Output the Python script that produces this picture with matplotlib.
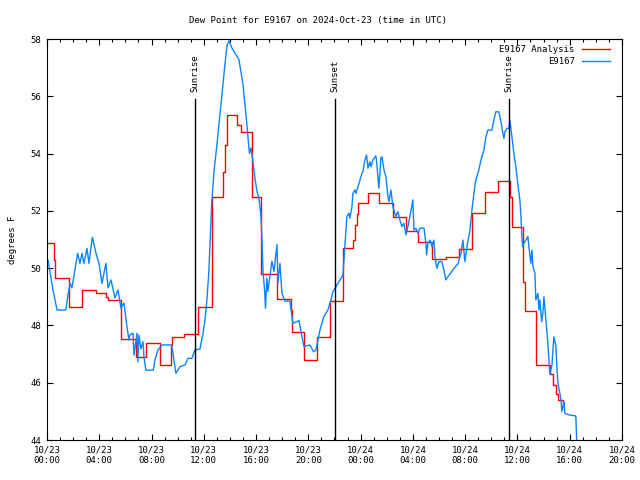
import matplotlib
matplotlib.use("Agg")
import matplotlib.pyplot as plt
from matplotlib.ticker import MultipleLocator, FixedLocator

# hours since 2024-10-23 00:00 UTC
blue_hours = [0.08, 0.23, 0.46, 0.77, 1.43, 1.76, 1.91, 2.35, 2.52, 2.68, 2.83, 3.06, 3.21, 3.47, 3.75,
              3.98, 4.21, 4.51, 4.67, 4.90, 5.20, 5.43, 5.66, 5.89, 6.12, 6.27, 6.35, 6.58, 6.66, 6.89,
              6.96, 7.04, 7.19, 7.35, 7.42, 7.57, 8.13, 8.26, 8.49, 8.80, 9.54, 9.72, 9.87, 10.18, 10.56,
              10.79, 11.09, 11.32, 11.71, 11.94, 12.09, 12.24, 12.39, 12.60, 12.78, 12.98, 13.16, 13.31,
              13.49, 13.64, 13.79, 13.93, 14.15, 14.38, 14.54, 14.69, 14.84, 15.00, 15.15, 15.30, 15.43,
              15.50, 15.61, 15.76, 15.91, 16.07, 16.22, 16.37, 16.45, 16.53, 16.66, 16.72, 16.83, 16.91,
              17.21, 17.37, 17.60, 17.67, 17.83, 17.98, 18.21, 18.59, 18.82, 19.28, 19.66, 20.12, 20.40,
              20.58, 20.89, 21.19, 21.50, 21.73, 21.88, 22.11, 22.42, 22.65, 22.78, 22.88, 22.95, 23.11,
              23.18, 23.34, 23.41, 23.57, 23.64, 23.80, 23.95, 24.10, 24.18, 24.33, 24.46, 24.56, 24.71,
              24.79, 24.94, 25.17, 25.25, 25.32, 25.40, 25.55, 25.63, 25.79, 25.94, 26.09, 26.17, 26.32,
              26.47, 26.70, 26.86, 27.01, 27.16, 27.31, 27.47, 27.62, 27.77, 28.00, 28.08, 28.23, 28.39,
              28.54, 28.85, 29.00, 29.05, 29.15, 29.30, 29.46, 29.61, 29.69, 29.84, 29.99, 30.22, 30.37,
              30.53, 30.68, 30.91, 31.14, 31.45, 31.68, 31.83, 31.98, 32.14, 32.37, 32.52, 32.67, 32.82,
              33.05, 33.21, 33.44, 33.59, 33.74, 34.05, 34.20, 34.35, 34.58, 34.74, 34.89, 34.97, 35.04,
              35.20, 35.35, 35.42, 35.50, 35.58, 35.73, 35.88, 36.04, 36.19, 36.27, 36.34, 36.40, 36.50,
              36.73, 36.80, 36.88, 37.03, 37.11, 37.19, 37.34, 37.41, 37.57, 37.64, 37.72, 37.85, 37.95,
              38.03, 38.18, 38.33, 38.48, 38.64, 38.79, 38.94, 39.02, 39.10, 39.25, 39.33, 39.40, 39.56,
              39.63, 40.02, 40.47, 40.55]
blue_values = [50.28, 49.88, 49.24, 48.54, 48.54, 49.47, 49.31, 50.52, 50.17, 50.52, 50.17, 50.69, 50.17, 51.08, 50.52,
               50.17, 49.47, 50.17, 49.31, 49.59, 48.96, 49.24, 48.61, 48.78, 47.96, 47.49, 47.67, 47.73, 46.97, 47.73,
               46.73, 47.67, 47.18, 47.43, 46.91, 46.44, 46.44, 46.79, 47.14, 47.32, 47.32, 46.79, 46.33, 46.56, 46.62,
               46.85, 46.85, 47.14, 47.18, 47.73, 48.19, 48.90, 49.90, 52.22, 53.38, 54.20, 55.01, 55.71,
               56.52, 57.22, 57.80, 57.94, 57.69, 57.51, 57.40, 57.28, 56.87, 56.41, 55.71, 55.01, 54.31,
               54.00, 54.20, 53.73, 53.15, 52.68, 52.45, 51.87, 51.05, 49.89, 49.19, 48.60, 49.66, 49.19,
               50.24, 49.89, 50.82, 49.47, 50.17, 49.12, 48.85, 48.85, 48.07, 48.17, 47.26, 47.32, 47.08,
               47.14, 47.84, 48.31, 48.54, 48.89, 49.18, 49.35, 49.59, 49.76, 50.63, 51.33, 51.80, 51.92,
               51.74, 52.15, 52.61, 52.73, 52.61, 52.84, 53.08, 53.31, 53.37, 53.78, 53.95, 53.49, 53.72,
               53.54, 53.78, 53.92, 53.60, 53.19, 52.79, 53.84, 53.89, 53.43, 53.19, 52.50, 52.32, 52.73,
               52.15, 51.80, 51.97, 51.68, 51.45, 51.57, 51.16, 51.45, 51.80, 52.38, 51.33, 51.39, 51.22,
               51.39, 51.40, 50.87, 50.46, 50.87, 50.98, 50.75, 50.98, 50.40, 49.99, 50.23, 50.23, 49.94,
               49.59, 49.70, 49.84, 49.99, 50.15, 50.52, 50.98, 50.23, 50.75, 51.33, 52.03, 52.61, 53.08,
               53.43, 53.78, 54.13, 54.59, 54.82, 54.82, 55.17, 55.46, 55.46, 55.11, 54.71, 54.53, 54.76,
               54.88, 54.88, 55.17, 54.90, 54.59, 54.01, 53.54, 52.90, 52.38, 51.80, 51.10, 50.75, 50.87,
               51.04, 51.10, 50.75, 50.17, 50.63, 50.05, 49.82, 48.89, 49.12, 48.54, 48.89, 48.13, 48.43,
               49.00, 48.19, 47.38, 46.30, 46.60, 47.60, 47.30, 46.56, 45.98, 45.63, 45.40, 44.99, 45.34,
               44.93, 44.87, 44.84, 43.80]

red_hours = [0.10, 0.55, 0.65, 1.66, 2.65, 3.73, 4.50, 4.69, 5.66, 6.79, 7.57, 8.65, 9.50, 9.56, 10.48,
             11.58, 12.60, 13.44, 13.60, 13.79, 14.56, 14.82, 15.66, 16.35, 17.62, 18.65, 18.72, 19.69,
             20.64, 21.65, 22.67, 23.44, 23.55, 23.70, 23.82, 24.58, 25.42, 26.45, 27.47, 28.41, 29.48,
             30.53, 31.55, 32.49, 33.51, 34.48, 35.46, 35.55, 36.44, 36.55, 37.41, 38.48, 38.71, 38.95,
             39.10, 39.48]
red_values = [50.87, 50.30, 49.65, 48.63, 49.24, 49.12, 49.00, 48.89, 47.52, 46.91, 47.38, 46.62, 47.30, 47.58, 47.70,
              48.63, 52.50, 53.37, 54.30, 55.33, 55.00, 54.74, 52.50, 49.80, 48.92, 48.54, 47.78, 46.79,
              47.58, 48.85, 50.69, 51.00, 51.50, 51.90, 52.26, 52.61, 52.29, 51.80, 51.31, 50.90, 50.31,
              50.40, 50.66, 51.92, 52.67, 53.05, 52.50, 51.45, 49.50, 48.52, 46.62, 46.30, 45.92, 45.60,
              45.40, 45.30]

sun_hours = [11.35, 22.05, 35.38]
sun_labels = ["Sunrise", "Sunset", "Sunrise"]

tick_hours = [0, 4, 8, 12, 16, 20, 24, 28, 32, 36, 40, 44]
tick_labels = ["10/23\n00:00", "10/23\n04:00", "10/23\n08:00", "10/23\n12:00", "10/23\n16:00", "10/23\n20:00",
               "10/24\n00:00", "10/24\n04:00", "10/24\n08:00", "10/24\n12:00", "10/24\n16:00", "10/24\n20:00"]

plt.rcParams['font.family'] = ['DejaVu Sans Mono']
plt.rcParams['font.size'] = 6.5

fig = plt.figure(figsize=(6.4, 4.8), dpi=100)
ax = fig.add_axes([0.0734, 0.0833, 0.8984, 0.8354])

ax.plot(red_hours + [39.55], red_values + [red_values[-1]], drawstyle='steps-post',
        color='#ff0000', lw=1.0, label='E9167 Analysis')
ax.plot(blue_hours, blue_values, color='#0a84ff', lw=1.0, label='E9167')

for h, lab in zip(sun_hours, sun_labels):
    ax.plot([h, h], [44, 55.9], color='black', lw=1.0)
    ax.text(h, 56.15, lab, rotation=90, ha='center', va='bottom', fontsize=6.5)

ax.set_xlim(0, 44)
ax.set_ylim(44, 58)
ax.xaxis.set_major_locator(FixedLocator(tick_hours))
ax.set_xticklabels(tick_labels)
ax.xaxis.set_minor_locator(MultipleLocator(1))
ax.yaxis.set_major_locator(MultipleLocator(2))
ax.tick_params(which='both', direction='in', top=True, right=True, width=0.8)
ax.tick_params(which='major', length=4.3, pad=4)
ax.tick_params(which='minor', length=2.2)
for s in ax.spines.values():
    s.set_linewidth(0.8)

fig.text(0.497, 0.958, 'Dew Point for E9167 on 2024-Oct-23 (time in UTC)', ha='center', va='center',
         fontsize=6.5)
ax.set_ylabel('degrees F', fontsize=6.5, labelpad=10)

ax.legend(loc='upper right', frameon=False, markerfirst=False, handlelength=3.1,
          borderaxespad=0.3, labelspacing=0.3, handletextpad=0.8, fontsize=6.5,
          bbox_to_anchor=(0.99, 1.0))

fig.savefig('out.png', dpi=100)
